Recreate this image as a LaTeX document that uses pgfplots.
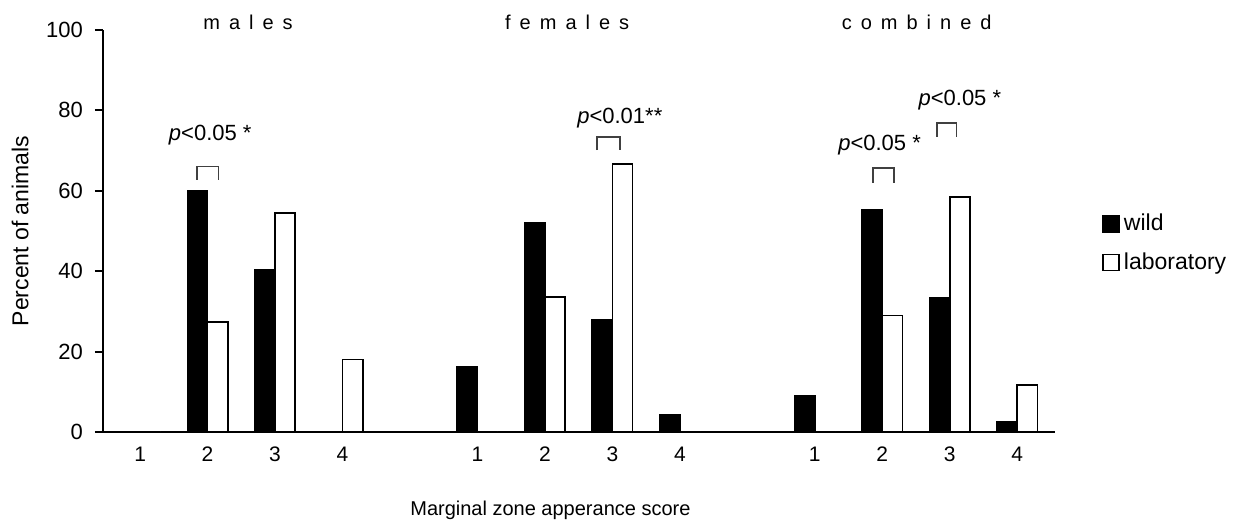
\documentclass[border=0pt]{standalone}
\usepackage{fontspec}
\setmainfont{Liberation Sans}
\usepackage{pgfplots}
\pgfplotsset{compat=1.18}

\begin{document}
\begin{tikzpicture}
\useasboundingbox (-51.5pt,-49pt) rectangle (570.5pt,216pt);
\begin{axis}[
  at={(0,0)}, anchor=south west,
  scale only axis, width=476pt, height=201pt,
  xmin=-0.55, xmax=13.56, ymin=0, ymax=100,
  axis x line=bottom, axis y line=left,
  axis line style={-, line width=1pt},
  clip=false,
  ybar=0pt, bar width=0.3,
  xtick={0,1,2,3,5,6,7,8,10,11,12,13},
  xticklabels={1,2,3,4,1,2,3,4,1,2,3,4},
  ytick={0,20,40,60,80,100},
  major x tick style={draw=none},
  tick align=outside, major tick length=4pt,
  major y tick style={line width=1pt, black},
  /pgf/number format/assume math mode=true,
  yticklabel style={font=\fontsize{11}{12}\selectfont, xshift=-2.5pt},
  xticklabel style={font=\fontsize{10.5}{12}\selectfont},
  xlabel={Marginal zone apperance score},
  xlabel style={at={(rel axis cs:0.47,0)}, anchor=center, yshift=-39pt,
    font=\fontsize{10}{12}\selectfont},
  ylabel={Percent of animals},
  ylabel style={at={(axis description cs:-0.087,0.5)}, anchor=center,
    font=\fontsize{11.5}{13}\selectfont},
  legend image code/.code={\draw[#1, line width=0.8pt] (0pt,-4pt) rectangle (8pt,4pt);},
  legend style={at={(rel axis cs:1.043,0.563)}, anchor=north west, draw=none, fill=none,
    font=\fontsize{11.5}{13}\selectfont, row sep=5.5pt,
    /tikz/every even column/.append style={column sep=0pt}},
  legend cell align=left,
]

% wild
\addplot[fill=black, draw=black, line width=0.8pt] coordinates {
  (0,0) (1,60) (2,40.3) (3,0)
  (5,16.2) (6,52) (7,28) (8,4.2)
  (10,9) (11,55.2) (12,33.3) (13,2.5)
};
% laboratory
\addplot[fill=white, draw=black, line width=0.8pt] coordinates {
  (0,0) (1,27.4) (2,54.5) (3,18)
  (5,0) (6,33.6) (7,66.7) (8,0)
  (10,0) (11,29) (12,58.4) (13,11.7)
};
\legend{wild, laboratory}

% group titles
\node[font=\fontsize{10}{12}\selectfont\addfontfeature{LetterSpace=45}] at (axis cs:1.6,102) {males};
\node[font=\fontsize{10}{12}\selectfont\addfontfeature{LetterSpace=45}] at (axis cs:6.33,102) {females};
\node[font=\fontsize{10}{12}\selectfont\addfontfeature{LetterSpace=45}] at (axis cs:11.51,102) {combined};

% significance brackets
\begin{scope}[line width=0.8pt, black!75]
\draw (axis cs:0.84,62.7) -- (axis cs:0.84,66) -- (axis cs:1.16,66) -- (axis cs:1.16,62.7);
\draw (axis cs:6.77,70.1) -- (axis cs:6.77,73.4) -- (axis cs:7.11,73.4) -- (axis cs:7.11,70.1);
\draw (axis cs:10.86,62) -- (axis cs:10.86,65.7) -- (axis cs:11.17,65.7) -- (axis cs:11.17,62);
\draw (axis cs:11.81,73.4) -- (axis cs:11.81,76.9) -- (axis cs:12.1,76.9) -- (axis cs:12.1,73.4);
\end{scope}
\begin{scope}[every node/.style={font=\fontsize{11}{13}\selectfont}]
\node at (axis cs:1.04,73.9) {\textit{p}<0.05 *};
\node at (axis cs:7.11,78.1) {\textit{p}<0.01**};
\node at (axis cs:10.96,71.4) {\textit{p}<0.05 *};
\node at (axis cs:12.15,82.6) {\textit{p}<0.05 *};
\end{scope}
\end{axis}
\end{tikzpicture}
\end{document}
